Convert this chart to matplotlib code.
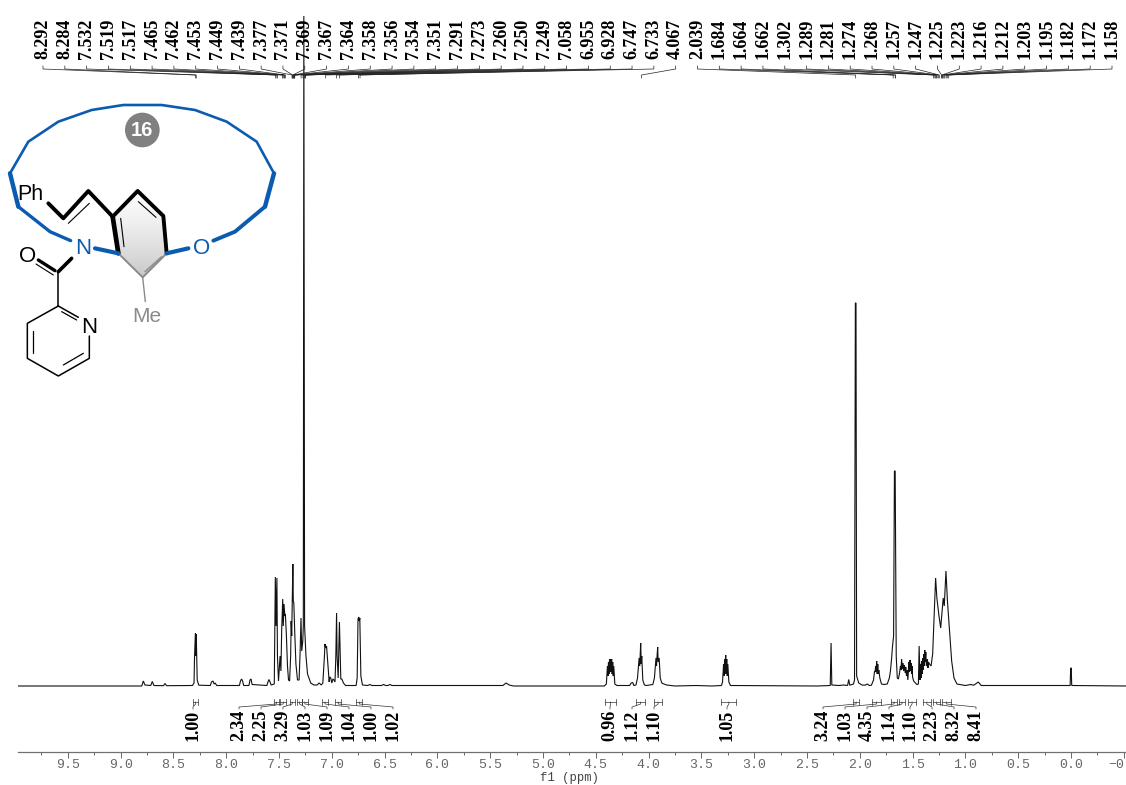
import numpy as np
import matplotlib
matplotlib.use("Agg")
import matplotlib.pyplot as plt
from matplotlib.patches import Polygon, Circle

W, H = 1126, 785
SERIF = "Liberation Serif"
SANS = "Liberation Sans"
MONO = "Liberation Mono"

# ---- spectrum envelope (ppm, height above the baseline) ----
ppm_aromatic = [9.97, 8.80, 8.785, 8.77, 8.715, 8.70, 8.685, 8.595, 8.58, 8.565, 8.32, 8.305, 8.30, 8.292, 8.288, 8.284, 8.275, 8.26,
                8.15, 8.14, 8.125, 8.115, 8.105, 8.09, 7.875, 7.865, 7.855, 7.845, 7.835, 7.785, 7.775, 7.765, 7.755, 7.615, 7.605, 7.595, 7.585, 7.575,
                7.545, 7.535, 7.528, 7.52, 7.515, 7.505, 7.49, 7.482, 7.475, 7.465, 7.46, 7.453, 7.445, 7.44, 7.43, 7.42, 7.41, 7.40, 7.39, 7.385,
                7.38, 7.372, 7.369, 7.365, 7.36, 7.35, 7.34, 7.325, 7.31, 7.30, 7.292, 7.285, 7.275, 7.27, 7.265, 7.258, 7.245, 7.23, 7.20, 7.17,
                7.14, 7.12, 7.10, 7.085, 7.07, 7.065, 7.058, 7.05, 7.04, 7.025, 7.02, 7.01, 7.00, 6.99, 6.98, 6.97, 6.962, 6.955, 6.95, 6.94, 6.935, 6.928, 6.92, 6.915, 6.905, 6.89, 6.87,
                6.77, 6.76, 6.752, 6.745, 6.74, 6.735, 6.725, 6.71, 6.66, 6.64, 6.62, 6.53, 6.51, 6.49, 6.47, 6.45, 6.43]
int_aromatic = [0, 0, 5, 1, 0.5, 4.5, 0.5, 0.3, 2.5, 0.3, 0.5, 3, 30, 53, 30, 52, 6, 0.8,
                0.5, 4, 5, 2, 3, 0.5, 0.5, 5, 7, 5, 0.5, 0.5, 6, 7, 1.5, 0.5, 4, 6.5, 4, 1,
                2, 109, 60, 108, 30, 5, 30, 15, 55, 87, 60, 82, 70, 72, 50, 20, 6, 5, 30, 65,
                50, 100, 122, 85, 83, 50, 22, 6, 6, 35, 68, 35, 45, 60, 670, 60, 30, 12, 3, 1,
                1, 3, 1, 3, 30, 42, 38, 40, 25, 4, 9, 8, 3, 7, 6, 4, 30, 73, 30, 8, 30, 64, 30, 7, 7, 3, 0.5,
                0.5, 8, 67, 69, 65, 68, 10, 1, 0.5, 1.5, 0.5, 0.5, 1.5, 0.5, 0.5, 1.5, 0.5]

ppm_middle = [5.38, 5.35, 5.32, 5.28, 4.42, 4.40, 4.39, 4.385, 4.38, 4.375, 4.37, 4.365, 4.36, 4.355, 4.35, 4.345, 4.34, 4.335, 4.33, 4.32, 4.30,
              4.18, 4.165, 4.15, 4.14, 4.12, 4.105, 4.09, 4.085, 4.08, 4.075, 4.07, 4.065, 4.055, 4.04, 4.02, 3.96, 3.945, 3.93, 3.925, 3.92, 3.914, 3.91, 3.90, 3.89, 3.875, 3.855, 3.83, 3.75, 3.55, 3.40,
              3.31, 3.30, 3.29, 3.285, 3.28, 3.275, 3.27, 3.265, 3.26, 3.255, 3.25, 3.24, 3.225]
int_middle = [0.5, 3, 1, 0, 0, 2, 20, 10, 24, 12, 27, 14, 27, 14, 27, 12, 24, 10, 20, 2, 0.5,
              0.5, 3, 3.5, 0.5, 1, 8, 28, 20, 30, 43, 22, 30, 6, 1, 0.5, 1.5, 8, 28, 20, 30, 39, 24, 28, 8, 3, 2, 1, 0, 0.5, 0,
              0.5, 4, 22, 10, 27, 12, 31, 12, 27, 10, 22, 4, 0.5]

ppm_aliphatic = [2.40, 2.28, 2.272, 2.265, 2.2, 2.15, 2.12, 2.115, 2.105, 2.095, 2.06, 2.05, 2.042, 2.036, 2.03, 2.01, 1.98, 1.95, 1.93, 1.91, 1.89, 1.87,
                 1.86, 1.855, 1.85, 1.845, 1.84, 1.835, 1.83, 1.825, 1.82, 1.81, 1.795, 1.77, 1.74, 1.72, 1.71, 1.70, 1.69, 1.68, 1.672, 1.665, 1.655, 1.645,
                 1.635, 1.625, 1.615, 1.61, 1.604, 1.598, 1.59, 1.585, 1.578, 1.57, 1.565, 1.558, 1.552, 1.545, 1.54, 1.535, 1.53, 1.525, 1.52, 1.515, 1.51, 1.505, 1.50, 1.49, 1.46, 1.445,
                 1.438, 1.43, 1.425, 1.42, 1.415, 1.41, 1.405, 1.40, 1.395, 1.39, 1.385, 1.38, 1.375, 1.37, 1.36, 1.355, 1.35, 1.34, 1.325, 1.31, 1.30, 1.29, 1.282, 1.27, 1.25, 1.234,
                 1.22, 1.21, 1.20, 1.184, 1.17, 1.16, 1.13, 1.108, 1.08, 1.0, 0.95, 0.92, 0.878, 0.85, 0.008, 0.003, -0.002, -0.007, -0.52]
int_aliphatic = [0, 0.5, 43, 1, 0.5, 1, 0.5, 0.8, 6.5, 0.8, 2, 6, 383, 383, 10, 3, 1, 0.8, 2, 0.5, 0.8, 6,
                 15, 14, 20, 14, 25, 12, 22, 12, 16, 8, 2, 1.5, 2, 8, 15, 26, 40, 50, 215, 215, 30, 8,
                 7, 12, 20, 16, 27, 17, 23, 15, 21, 13, 19, 10, 16, 6, 14, 24, 14, 26, 15, 23, 12, 20, 9, 5, 1.5, 2,
                 40, 6, 22, 8, 25, 12, 28, 16, 32, 20, 36, 24, 34, 20, 27, 18, 24, 22, 20, 32, 60, 90, 108, 88, 70, 58,
                 75, 88, 80, 115, 85, 70, 25, 8, 2, 0.5, 1.5, 0.8, 4, 0.5, 0.5, 18, 18, 0.5, 0]

# ---- peak-pick labels ----
peak_labels = ["8.292", "8.284", "7.532", "7.519", "7.517", "7.465", "7.462", "7.453", "7.449", "7.439",
               "7.377", "7.371", "7.369", "7.367", "7.364", "7.358", "7.356", "7.354", "7.351", "7.291",
               "7.273", "7.260", "7.250", "7.249", "7.058", "6.955", "6.928", "6.747", "6.733", "4.067",
               "2.039", "1.684", "1.664", "1.662", "1.302", "1.289", "1.281", "1.274", "1.268", "1.257",
               "1.247", "1.225", "1.223", "1.216", "1.212", "1.203", "1.195", "1.182", "1.172", "1.158"]

# ---- integrals: value, region start, region end (ppm), label x (px) ----
integral_values = ["1.00", "2.34", "2.25", "3.29", "1.03", "1.09", "1.04", "1.00", "1.02",
                   "0.96", "1.12", "1.10", "1.05",
                   "3.24", "1.03", "4.35", "1.14", "1.10", "2.23", "8.32", "8.41"]
integral_from = [8.31, 7.55, 7.49, 7.40, 7.33, 7.28, 7.09, 6.97, 6.77,
                 4.41, 4.12, 3.95, 3.31,
                 2.06, 1.88, 1.70, 1.63, 1.54, 1.40, 1.31, 1.22]
integral_to = [8.27, 7.50, 7.43, 7.35, 7.28, 7.23, 7.04, 6.91, 6.71,
               4.31, 4.03, 3.87, 3.17,
               2.01, 1.80, 1.65, 1.57, 1.47, 1.33, 1.24, 1.14]
integral_label_x = [193, 239, 261, 283, 305, 327, 349, 371, 393,
                    610, 632, 654, 727,
                    823, 845, 867, 889, 910, 932, 954, 976]

major_ticks = [9.5, 9.0, 8.5, 8.0, 7.5, 7.0, 6.5, 6.0, 5.5, 5.0, 4.5, 4.0, 3.5, 3.0, 2.5, 2.0, 1.5, 1.0, 0.5, 0.0, -0.5]
minor_ticks = [9.75, 9.25, 8.75, 8.25, 7.75, 7.25, 6.75, 6.25, 5.75, 5.25, 4.75, 4.25, 3.75, 3.25, 2.75, 2.25, 1.75, 1.25, 0.75, 0.25, -0.25]

fig = plt.figure(figsize=(W / 100, H / 100), dpi=100, facecolor="white")

# main spectrum axes: one height unit is one pixel, baseline at y=686
ax = fig.add_axes([18 / W, (H - 752) / H, (W - 18) / W, 752 / H])
ax.set_xlim(9.972, -0.521)
ax.set_ylim(-66, 686)
ax.patch.set_alpha(0)
for name in ("top", "left", "right"):
    ax.spines[name].set_visible(False)
ax.spines["bottom"].set_color("#707070")
ax.spines["bottom"].set_linewidth(0.9)
ax.set_yticks([])
ax.set_xticks(major_ticks)
ax.set_xticklabels(["%.1f" % abs(t) if t >= 0 else "\u2212%.1f" % abs(t) for t in major_ticks],
                   family=MONO, fontsize=9.5, color="#666666")
ax.set_xticks(minor_ticks, minor=True)
ax.tick_params(axis="x", which="major", length=4, width=0.7, color="#666666", pad=1)
ax.tick_params(axis="x", which="minor", length=2.5, width=0.7, color="#666666")

ppm_all = ppm_aromatic + ppm_middle + ppm_aliphatic
int_all = int_aromatic + int_middle + int_aliphatic
ax.plot(ppm_all, int_all, color="#111111", lw=0.8, solid_joinstyle="miter")

# overlay in image pixels for annotations and the structure
ov = fig.add_axes([0, 0, 1, 1])
ov.set_xlim(0, W)
ov.set_ylim(H, 0)
ov.axis("off")
ov.patch.set_alpha(0)


def px(ppm):
    return ax.transData.transform((ppm, 0))[0]


fig.canvas.draw()
ov.text(569, 777.5, "f1 (ppm)", family=MONO, fontsize=8.8, color="#444444", ha="center", va="center")

# peak labels + leaders
first_x, last_x = 43.0, 1112.0
for i, lab in enumerate(peak_labels):
    x0 = first_x + (last_x - first_x) * i / (len(peak_labels) - 1)
    x1 = px(float(lab))
    ov.text(x0, 39, lab, rotation=90, family=SERIF, weight="bold", fontsize=13,
            ha="center", va="center", color="black")
    ov.plot([x0, x0, x1, x1], [66, 69, 75, 78], color="#222222", lw=0.5)

# integrals
for val, a, b, lx in zip(integral_values, integral_from, integral_to, integral_label_x):
    xa, xb = px(a), px(b)
    ov.plot([xa, xb], [702, 702], color="#333333", lw=0.5)
    for xx in (xa, xb):
        ov.plot([xx, xx], [699, 705], color="#333333", lw=0.5)
    xc = (xa + xb) / 2
    ov.plot([xc, xc, lx, lx], [702, 704, 707, 709], color="#333333", lw=0.5)
    ov.text(lx, 725, val, rotation=90, family=SERIF, weight="bold", fontsize=13,
            ha="center", va="center", color="black")

# ---- structure, coordinates in a 3x crop of the picture ----
BLUE = "#0b5cb0"
GREY = "#8a8a8a"


def S(points):
    a = np.array(points, dtype=float)
    return a[:, 0] / 3, 90 + a[:, 1] / 3


def bond(points, color="black", lw=1.5):
    x, y = S(points)
    ov.plot(x, y, color=color, lw=lw, solid_capstyle="round", solid_joinstyle="round")


ring_top = [(30, 250), (85, 155), (175, 95), (275, 60), (370, 45), (485, 45), (585, 60), (680, 95), (770, 155), (822, 250)]
bond(ring_top, BLUE, 1.9)
bond([(212, 452), (150, 425), (55, 350)], BLUE, 2.4)
bond([(55, 350), (30, 250)], BLUE, 3.2)
bond([(822, 250), (795, 350)], BLUE, 3.2)
bond([(795, 350), (705, 425), (640, 452)], BLUE, 2.8)

hexagon = [(338, 380), (413, 303), (490, 378), (500, 490), (428, 562), (355, 490)]
hx, hy = S(hexagon)
grad = np.linspace(0, 1, 64).reshape(-1, 1)
img = ov.imshow(grad, extent=[hx.min(), hx.max(), hy.max(), hy.min()], cmap="Greys",
                vmin=-0.05, vmax=3.2, aspect="auto", origin="upper", zorder=1)
clip = Polygon(np.column_stack([hx, hy]), transform=ov.transData, fc="none", ec="none")
ov.add_patch(clip)
img.set_clip_path(clip)
ov.set_xlim(0, W)
ov.set_ylim(H, 0)

bond([(145, 340), (190, 385), (265, 303), (338, 380)], "black", 2.8)
bond([(205, 400), (268, 340)], "black", 0.8)
bond([(338, 380), (413, 303), (490, 378), (500, 490)], "black", 2.8)
bond([(338, 380), (355, 490)], "black", 3.4)
bond([(355, 490), (428, 562), (500, 490)], GREY, 1.4)
bond([(362, 385), (372, 470)], "black", 0.8)
bond([(415, 335), (468, 382)], "black", 0.8)
bond([(435, 545), (485, 500)], GREY, 1.0)
bond([(428, 562), (436, 635)], GREY, 1.0)
bond([(285, 475), (355, 490)], BLUE, 3.0)
bond([(500, 490), (565, 475)], BLUE, 3.0)
bond([(215, 505), (175, 545)], "black", 2.6)
bond([(165, 542), (115, 510)], "black", 2.4)
bond([(160, 555), (108, 522)], "black", 0.8)
bond([(175, 545), (175, 648)], "black", 1.1)
bond([(175, 648), (235, 682)], "black", 1.1)
bond([(268, 738), (268, 805), (175, 858), (82, 805), (82, 700), (175, 648)], "black", 1.1)
bond([(185, 665), (230, 690)], "black", 0.9)
bond([(100, 722), (100, 790)], "black", 0.9)
bond([(190, 825), (250, 790)], "black", 0.9)


def label(zx, zy, s, color, size, **kw):
    ov.text(zx / 3, 90 + zy / 3, s, color=color, family=SANS, fontsize=size,
            ha="center", va="center", **kw)


label(92, 312, "Ph", "black", 15.5)
label(250, 475, "N", BLUE, 16)
label(605, 475, "O", BLUE, 16)
label(82, 500, "O", "black", 16)
label(268, 713, "N", "black", 16)
label(440, 680, "Me", GREY, 15)

ov.add_patch(Circle((427 / 3, 90 + 120 / 3), 52 / 3, fc="#808080", ec="none", zorder=3))
ov.text(427 / 3, 90 + 121 / 3, "16", color="white", family=SANS, weight="bold", fontsize=14.5,
        ha="center", va="center", zorder=4)

fig.savefig("out.png", dpi=100)
